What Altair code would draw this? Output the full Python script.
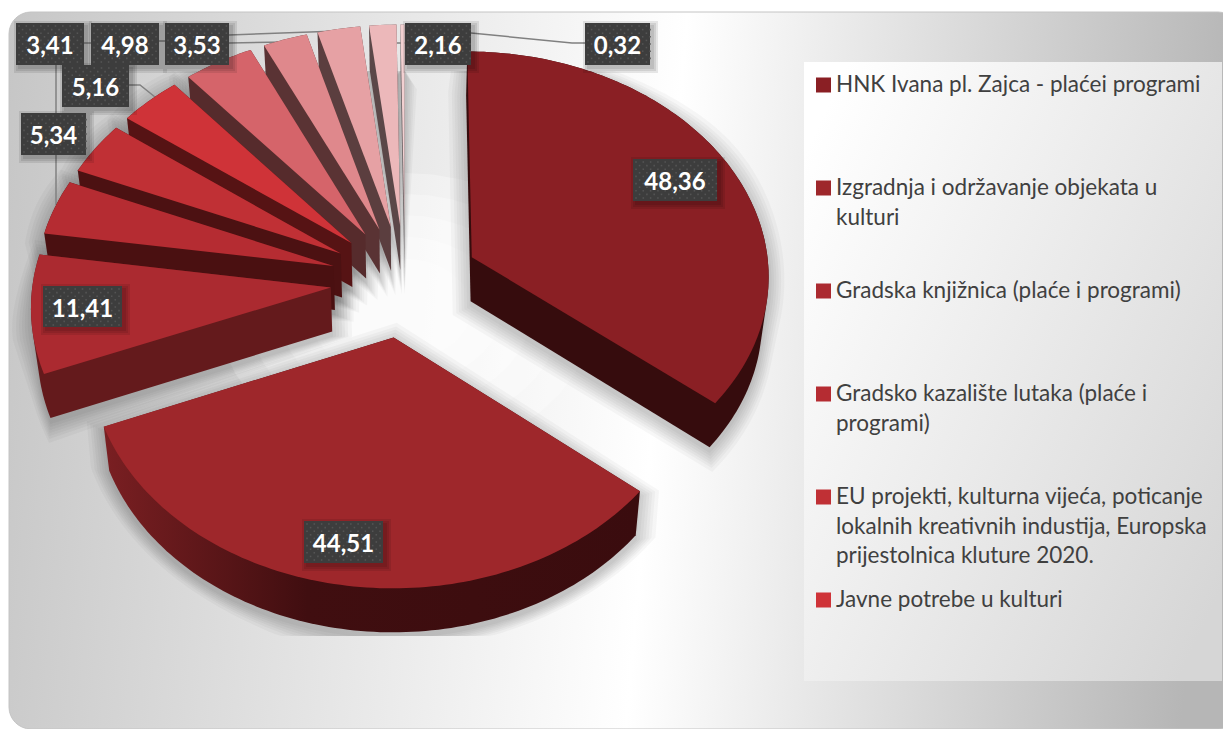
import math
import altair as alt
import pandas as pd

# ---- data ----
values = [48.36, 44.51, 11.41, 5.34, 5.16, 4.98, 5.6, 3.53, 3.41, 2.16, 0.32]
face_colors = ["#8a1f24", "#9e272b", "#ab2a30", "#b52c32", "#c03035", "#cf3338",
               "#d5646a", "#df888c", "#e6a1a4", "#ecb8ba", "#f2d0d1"]
wall_colors = ["#360c0d", "#3e0d0f", "#641a1c", "#4a1011", "#4c1112", "#561314",
               "#562b2c", "#5a3334", "#5b3e3f", "#5b4748", "#6a6264"]
label_text = ["48,36", "44,51", "11,41", "5,34", "5,16", "3,41", "4,98", "3,53", "2,16", "0,32"]
label_box = [(633, 717, 159, 201), (304, 383, 521, 563), (43, 122, 286, 327), (21, 86, 113, 155),
             (62, 129, 65, 107), (16, 84, 23, 65), (91, 159, 23, 65), (165, 229, 23, 65),
             (405, 471, 23, 65), (585, 650, 23, 65)]
leaders = [[(56, 65), (56, 205)], [(84, 43), (91, 43)], [(159, 41), (165, 41)],
           [(229, 43), (285, 42)], [(229, 35), (338, 31)],
           [(129, 85), (140, 85), (155, 97)], [(405, 43), (393, 43), (382, 27)],
           [(471, 33), (572, 43), (585, 43)]]
legend_items = [
    ("#8a1f24", 85, ["HNK Ivana pl. Zajca - plaćei programi"]),
    ("#9e272b", 188, ["Izgradnja i održavanje objekata u", "kulturi"]),
    ("#ab2a30", 291, ["Gradska knjižnica (plaće i programi)"]),
    ("#b52c32", 394, ["Gradsko kazalište lutaka (plaće i", "programi)"]),
    ("#c03035", 497, ["EU projekti, kulturna vijeća, poticanje",
                      "lokalnih kreativnih industija, Europska",
                      "prijestolnica kluture 2020."]),
    ("#cf3338", 600, ["Javne potrebe u kulturi"]),
]

# ---- tilted-disc projection of the pie ----
CX, CY, A, B, K = 405, 281, 298, 224, 0.073
EXPLODE, DEPTH, SHRINK = 0.25, 44, 0.982
X_SC = alt.Scale(domain=[8, 1223], range=[0, 1215])
Y_SC = alt.Scale(domain=[729, 8], range=[721, 0])


def project(px, py):
    w = 1 + K * py
    return CX + A * px / w, CY - B * py / w


def slice_outline(t0, t1):
    m = (t0 + t1) / 2
    ex, ey = EXPLODE * math.sin(m), EXPLODE * math.cos(m)
    pts = [project(ex, ey)]
    n = max(4, int((t1 - t0) / 0.02))
    for i in range(n + 1):
        t = t0 + (t1 - t0) * i / n
        pts.append(project(ex + math.sin(t), ey + math.cos(t)))
    return pts


def hull(points):
    pts = sorted(set(points))
    def cross(o, a, b):
        return (a[0] - o[0]) * (b[1] - o[1]) - (a[1] - o[1]) * (b[0] - o[0])
    lo, up = [], []
    for p in pts:
        while len(lo) >= 2 and cross(lo[-2], lo[-1], p) <= 0:
            lo.pop()
        lo.append(p)
    for p in reversed(pts):
        while len(up) >= 2 and cross(up[-2], up[-1], p) <= 0:
            up.pop()
        up.append(p)
    return lo[:-1] + up[:-1]


def frame(pts, key="a"):
    return pd.DataFrame([{"x": p[0], "y": p[1], "i": i, "key": key} for i, p in enumerate(pts)])


def enc(chart):
    return chart.encode(
        x=alt.X("x:Q", scale=X_SC, axis=None),
        y=alt.Y("y:Q", scale=Y_SC, axis=None),
    )


def poly(pts, **mark):
    return enc(alt.Chart(frame(pts)).mark_line(filled=True, strokeWidth=0, **mark)).encode(order=alt.Order("i:Q"))


def rects(df, **mark):
    return alt.Chart(df).mark_rect(**mark).encode(
        x=alt.X("x:Q", scale=X_SC, axis=None), x2="x2:Q",
        y=alt.Y("y:Q", scale=Y_SC, axis=None), y2="y2:Q")


layers = []

# background panel
bg = alt.Gradient(gradient="linear", x1=0, x2=1, y1=0, y2=0.05, stops=[
    alt.GradientStop(color="#c6c6c6", offset=0), alt.GradientStop(color="#ffffff", offset=0.55),
    alt.GradientStop(color="#b6b6b6", offset=1)])
layers.append(rects(pd.DataFrame([{"x": 9, "x2": 1240, "y": 12, "y2": 729}]),
                    fill=bg, cornerRadius=22, stroke="#c4c4c4", strokeWidth=1))
panel = alt.Gradient(gradient="linear", x1=0, x2=1, y1=0.15, y2=0.85, stops=[
    alt.GradientStop(color="#ffffff", offset=0), alt.GradientStop(color="#d6d6d6", offset=1)])
layers.append(rects(pd.DataFrame([{"x": 804, "x2": 1222, "y": 62, "y2": 681}]), fill=panel))

# white glow in the gap at the pie's centre
glow = []
for level, r in enumerate([0.62, 0.52, 0.42, 0.32, 0.22]):
    for i in range(40):
        t = i / 40 * 2 * math.pi
        px, py = project(r * math.sin(t), r * math.cos(t) - 0.12)
        glow.append({"x": px, "y": py, "i": i, "key": level})
layers.append(enc(alt.Chart(pd.DataFrame(glow)).mark_line(
    filled=True, strokeWidth=0, color="#ffffff", opacity=0.3)).encode(
        order=alt.Order("i:Q"), detail="key:N"))

# geometry of the slices
total = sum(values)
angles, t = [], 0.0
for v in values:
    a = v / total * 2 * math.pi
    angles.append((t, t + a))
    t += a
tops = [slice_outline(*ang) for ang in angles]
walls = []
for top in tops:
    bottom = [(CX + (x - CX) * SHRINK, y + DEPTH) for x, y in top]
    walls.append(hull(top + bottom))

# soft shadows, built from the walls
rows = []
for s, w in enumerate(walls):
    gx = sum(p[0] for p in w) / len(w)
    gy = sum(p[1] for p in w) / len(w)
    for level, grow in enumerate([1, 4, 7, 10, 13, 16, 20]):
        for i, (x, y) in enumerate(w):
            d = math.hypot(x - gx, y - gy) or 1
            nx = x + (x - gx) / d * grow
            ny = y + (y - gy) / d * grow + 5
            rows.append({"x": nx, "y": min(636, max(71, ny)), "i": i, "key": f"{s}-{level}"})
layers.append(enc(alt.Chart(pd.DataFrame(rows)).mark_line(
    filled=True, strokeWidth=0, color="#000000", opacity=0.03)).encode(
        order=alt.Order("i:Q"), detail="key:N"))

# leader lines
lead = pd.DataFrame([{"x": p[0], "y": p[1], "i": i, "key": n}
                     for n, l in enumerate(leaders) for i, p in enumerate(l)])
leader_layer = enc(alt.Chart(lead).mark_line(color="#808080", strokeWidth=1.5)).encode(
    order=alt.Order("i:Q"), detail="key:N")
layers.append(leader_layer)

# slices, back to front
draw_order = [10, 9, 8, 7, 6, 5, 4, 3, 2, 0, 1]
for s in draw_order:
    if s == 1:
        wall_fill = alt.Gradient(gradient="linear", x1=0, x2=1, y1=0, y2=0, stops=[
            alt.GradientStop(color="#7a1f22", offset=0), alt.GradientStop(color="#400e10", offset=0.38),
            alt.GradientStop(color="#3a0c0e", offset=1)])
        layers.append(poly(walls[s], fill=wall_fill))
    else:
        layers.append(poly(walls[s], fill=wall_colors[s]))
    layers.append(poly(tops[s], fill=face_colors[s]))

# value boxes
shadow_rows, box_rows, dot_rows, text_rows = [], [], [], []
for txt, (x0, x1, y0, y1) in zip(label_text, label_box):
    for g in (5, 3, 1):
        shadow_rows.append({"x": x0 + 3 - g, "x2": x1 + 3 + g, "y": y0 + 3 - g, "y2": y1 + 3 + g})
    box_rows.append({"x": x0, "x2": x1, "y": y0, "y2": y1})
    text_rows.append({"x": (x0 + x1) / 2, "y": (y0 + y1) / 2 + 3, "t": txt})
    yy, row = y0 + 3, 0
    while yy < y1:
        xx = x0 + 3 + (row % 2) * 3.6
        while xx < x1:
            dot_rows.append({"x": xx, "y": yy})
            xx += 7.3
        yy += 3.6
        row += 1
layers.append(rects(pd.DataFrame(shadow_rows), fill="#000000", opacity=0.09))
layers.append(rects(pd.DataFrame(box_rows), fill="#3d3d3d"))
layers.append(enc(alt.Chart(pd.DataFrame(dot_rows)).mark_square(size=2.5, color="#545454", opacity=1)))
layers.append(enc(alt.Chart(pd.DataFrame(text_rows)).mark_text(
    font="Lato", fontSize=24, fontWeight="bold", color="#ffffff", align="center", baseline="middle")).encode(
        text="t:N"))

# legend
sq_rows, leg_rows = [], []
for col, yc, lines in legend_items:
    sq_rows.append({"x": 816, "x2": 831, "y": yc - 7.5, "y2": yc + 7.5, "c": col})
    for n, line in enumerate(lines):
        leg_rows.append({"x": 836, "y": yc + n * 29.5, "t": line})
sq_df = pd.DataFrame(sq_rows)
layers.append(rects(sq_df).encode(color=alt.Color("c:N", scale=None, legend=None)))
layers.append(enc(alt.Chart(pd.DataFrame(leg_rows)).mark_text(
    font="Lato", fontSize=22.5, color="#404040", align="left", baseline="middle")).encode(text="t:N"))

chart = alt.layer(*layers).properties(
    width=1215, height=721, padding=0, autosize=alt.AutoSizeParams(type="none"),
    background="#ffffff"
).configure_view(stroke=None)

chart.save("out.html", embed_options={"renderer": "svg", "actions": False})
